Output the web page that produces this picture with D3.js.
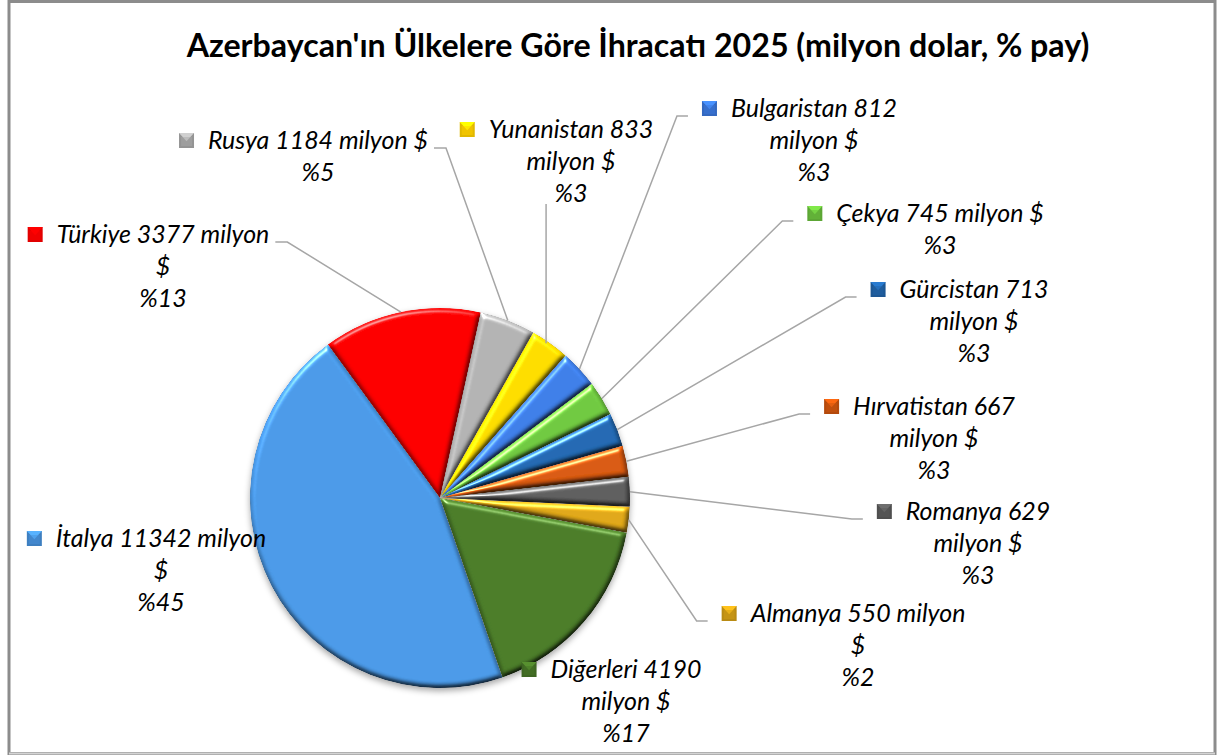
<!DOCTYPE html>
<meta charset="utf-8">
<title>Azerbaycan ihracat 2025</title>
<style>
body { margin: 0; background: #fff; }
svg { display: block; }
text { font-family: Lato, "Open Sans", sans-serif; fill: #000; }
.lbl { font-style: italic; }
.title { font-weight: bold; }
.leader { fill: none; stroke: #a6a6a6; stroke-width: 1.5px; }
</style>
<body>
<script src="https://cdn.jsdelivr.net/npm/d3@7"></script>
<script>

// veri
var countries = ["İtalya", "Türkiye", "Rusya", "Yunanistan", "Bulgaristan", "Çekya",
                 "Gürcistan", "Hırvatistan", "Romanya", "Almanya", "Diğerleri"];
var exportsMln = [11342, 3377, 1184, 833, 812, 745, 713, 667, 629, 550, 4190];
var sliceColors = ["#4690da", "#ff0000", "#a8a8a8", "#ffd000", "#3a76da", "#68bc3c",
                   "#2163a8", "#cc540e", "#595959", "#d29d16", "#467426"];
var titleText = "Azerbaycan'ın Ülkelere Göre İhracatı 2025 (milyon dolar, % pay)";

// etiket yerleşimi (Excel'de elle konmuş)
// wrap: a = "ad değer milyon $" / "%p", b = "ad değer" / "milyon $" / "%p", c = "ad değer milyon" / "$" / "%p"
var labelLayout = [
  {x: 161, y: 547, wrap: "c", side: "none"},
  {x: 163, y: 243, wrap: "c", side: "left"},
  {x: 318, y: 149, wrap: "a", side: "left"},
  {x: 571, y: 138, wrap: "b", side: "bottom"},
  {x: 814, y: 117, wrap: "b", side: "right"},
  {x: 940, y: 222, wrap: "a", side: "right"},
  {x: 974, y: 298, wrap: "b", side: "right"},
  {x: 934, y: 415, wrap: "b", side: "right"},
  {x: 978, y: 520, wrap: "b", side: "right"},
  {x: 858, y: 622, wrap: "c", side: "right"},
  {x: 626, y: 678, wrap: "b", side: "none"}
];

var width = 1219,
    height = 755,
    cx = 440,
    cy = 498,
    radius = 190,
    lineH = 32;

var svg = d3.select("body").append("svg")
    .attr("width", width)
    .attr("height", height);

var defs = svg.append("defs");

// bevel efekti
var bevel = defs.append("filter")
    .attr("id", "bevel")
    .attr("color-interpolation-filters", "sRGB")
    .attr("x", "-5%").attr("y", "-5%").attr("width", "110%").attr("height", "110%");
bevel.append("feGaussianBlur").attr("in", "SourceAlpha").attr("stdDeviation", 2.5).attr("result", "blur");
bevel.append("feDiffuseLighting").attr("in", "blur").attr("surfaceScale", 3)
    .attr("diffuseConstant", 1).attr("lighting-color", "#fff").attr("result", "diff")
  .append("feDistantLight").attr("azimuth", 250).attr("elevation", 55);
bevel.append("feComposite").attr("in", "SourceGraphic").attr("in2", "diff")
    .attr("operator", "arithmetic").attr("k1", 1.2).attr("k2", 0).attr("k3", 0).attr("k4", 0)
    .attr("result", "shaded");
bevel.append("feSpecularLighting").attr("in", "blur").attr("surfaceScale", 3)
    .attr("specularConstant", 0.6).attr("specularExponent", 40)
    .attr("lighting-color", "#fff").attr("result", "spec")
  .append("feDistantLight").attr("azimuth", 250).attr("elevation", 40);
bevel.append("feComposite").attr("in", "spec").attr("in2", "SourceAlpha")
    .attr("operator", "in").attr("result", "specIn");
bevel.append("feComposite").attr("in", "shaded").attr("in2", "specIn")
    .attr("operator", "arithmetic").attr("k1", 0).attr("k2", 1).attr("k3", 1).attr("k4", 0)
    .attr("result", "lit");
bevel.append("feComposite").attr("in", "lit").attr("in2", "SourceAlpha").attr("operator", "in");

var shadow = defs.append("filter")
    .attr("id", "shadow")
    .attr("x", "-10%").attr("y", "-10%").attr("width", "120%").attr("height", "125%");
shadow.append("feDropShadow").attr("dx", 0).attr("dy", 3).attr("stdDeviation", 3)
    .attr("flood-color", "#000").attr("flood-opacity", 0.35);

var color = d3.scaleOrdinal().domain(countries).range(sliceColors);

// dilim gradyanları
countries.forEach(function(c, i) {
  var base = d3.color(color(c));
  var g = defs.append("linearGradient")
      .attr("id", "grad" + i)
      .attr("gradientUnits", "userSpaceOnUse")
      .attr("x1", 0).attr("y1", cy - radius)
      .attr("x2", 0).attr("y2", cy + radius);
  g.append("stop").attr("offset", "0%").attr("stop-color", base.brighter(0.2));
  g.append("stop").attr("offset", "55%").attr("stop-color", base);
  g.append("stop").attr("offset", "100%").attr("stop-color", base.darker(0.15));
});

// çerçeve
svg.append("rect")
    .attr("x", 9).attr("y", 1.5)
    .attr("width", 1206).attr("height", 752)
    .attr("fill", "#fff")
    .attr("stroke", "#8c8c8c")
    .attr("stroke-width", 3);
svg.append("line")
    .attr("x1", 9).attr("x2", 1215).attr("y1", 753.5).attr("y2", 753.5)
    .attr("stroke", "#d4d4d4").attr("stroke-width", 2);

// yazı boyutunu hedef genişliğe göre ayarla
function fitSize(str, cls, target, start) {
  var t = svg.append("text").attr("class", cls).style("font-size", start + "px").text(str);
  var w = t.node().getComputedTextLength();
  t.remove();
  return start * target / w;
}

var labelSize = fitSize("Rusya 1184 milyon $", "lbl", 220, 24);
var titleSize = fitSize(titleText, "title", 903, 28);

svg.append("text")
    .attr("class", "title")
    .attr("x", 638)
    .attr("y", 57)
    .attr("text-anchor", "middle")
    .style("font-size", titleSize + "px")
    .text(titleText);

var total = d3.sum(exportsMln);

var pie = d3.pie()
    .sort(null)
    .startAngle(160.8 * Math.PI / 180)
    .endAngle(160.8 * Math.PI / 180 + 2 * Math.PI);

var arc = d3.arc()
    .innerRadius(0)
    .outerRadius(radius);

var arcs = pie(exportsMln);

var chart = svg.append("g")
    .attr("transform", "translate(" + cx + "," + cy + ")");

var pieG = chart.append("g").attr("filter", "url(#shadow)");

pieG.selectAll("path.slice")
    .data(arcs)
  .enter().append("path")
    .attr("class", "slice")
    .attr("d", arc)
    .attr("fill", function(d, i) { return "url(#grad" + i + ")"; })
    .attr("filter", "url(#bevel)");

// etiketler
var leaderG = svg.append("g");
var labelG = svg.append("g");

arcs.forEach(function(d, i) {
  var L = labelLayout[i];
  var name = countries[i], v = exportsMln[i];
  var pct = "%" + Math.round(v / total * 100);
  var lines;
  if (L.wrap == "a") lines = [name + " " + v + " milyon $", pct];
  else if (L.wrap == "b") lines = [name + " " + v, "milyon $", pct];
  else lines = [name + " " + v + " milyon", "$", pct];

  var t = labelG.append("text")
      .attr("class", "lbl")
      .attr("text-anchor", "middle")
      .style("font-size", labelSize + "px");
  lines.forEach(function(s, k) {
    t.append("tspan").attr("x", L.x).attr("y", L.y + k * lineH).text(s);
  });

  var w1 = t.select("tspan").node().getComputedTextLength();
  var left = L.x - w1 / 2;
  var ks = 15, kx = left - 14 - ks, ky = L.y - 16;

  // lejant anahtarı
  var base = d3.color(color(name));
  var key = labelG.append("g");
  key.append("rect")
      .attr("x", kx).attr("y", ky).attr("width", ks).attr("height", ks)
      .attr("fill", base.darker(0.35));
  key.append("path")
      .attr("d", "M" + kx + "," + ky + "h" + ks + "l" + (-ks / 2) + "," + (ks * 0.55) + "z")
      .attr("fill", base.brighter(0.6));
  key.append("rect")
      .attr("x", kx + 2).attr("y", ky + 4).attr("width", ks - 4).attr("height", ks - 6)
      .attr("fill", base).attr("opacity", 0.5);

  if (L.side == "none") return;

  var mid = (d.startAngle + d.endAngle) / 2;
  var p = [cx + radius * Math.sin(mid), cy - radius * Math.cos(mid)];
  var pts;
  if (L.side == "left") {
    var ax = L.x + w1 / 2 + 6;
    pts = [p, [ax + 12, L.y - 1], [ax, L.y - 1]];
  } else if (L.side == "right") {
    var bx = kx - 14;
    pts = [p, [bx - 11, L.y - 1], [bx, L.y - 1]];
  } else {
    pts = [[p[0] - 4, p[1]], [p[0] - 4, L.y + (lines.length - 1) * lineH + 2]];
  }
  leaderG.append("path")
      .attr("class", "leader")
      .attr("d", d3.line()(pts));
});

</script>
</body>
